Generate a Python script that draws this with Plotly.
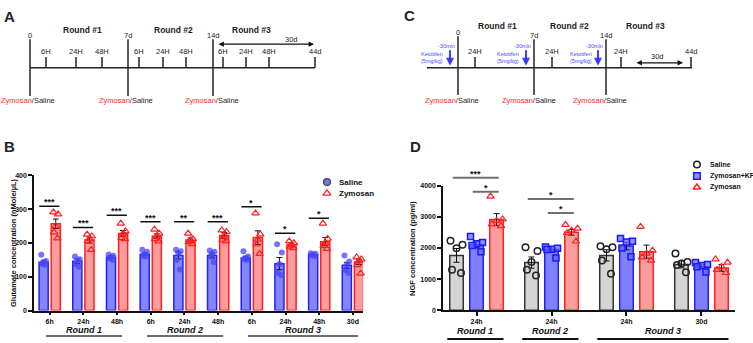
import plotly.graph_objects as go

W, H = 753, 343
FONT = "Liberation Sans"

# ---------------- Panel B data (glutamate) ----------------
b_times = ["6h", "24h", "48h", "6h", "24h", "48h", "6h", "24h", "48h", "30d"]
b_series = ["Saline", "Zymosan"]
b_rounds = ["Round 1", "Round 2", "Round 3"]
b_round_span = [(0, 2), (3, 5), (6, 9)]
b_sal_mean = [143, 146, 158, 167, 163, 163, 156, 139, 165, 134]
b_sal_sem = [6, 7, 5, 4, 10, 7, 5, 18, 3, 9]
b_zym_mean = [257, 209, 228, 220, 209, 222, 216, 195, 204, 144]
b_zym_sem = [14, 9, 9, 7, 6, 9, 20, 5, 12, 8]
b_sal_pts = [[165, 147, 143, 138, 136], [160, 152, 148, 138, 130], [166, 162, 158, 155, 150],
             [180, 174, 166, 162, 160], [180, 176, 170, 150, 122], [178, 174, 168, 160, 144],
             [176, 160, 155, 152, 150], [196, 172, 138, 112, 105], [170, 168, 166, 164, 161],
             [163, 145, 135, 120, 112]]
b_zym_pts = [[291, 285, 250, 232, 214], [225, 220, 212, 205, 180], [258, 235, 228, 215, 212],
             [240, 228, 220, 212, 205], [228, 212, 208, 203, 197], [238, 233, 222, 210, 205],
             [288, 226, 210, 196, 168], [205, 200, 195, 190, 185], [258, 213, 200, 192, 183],
             [158, 152, 147, 135, 110]]
b_sig_group = [0, 1, 2, 3, 4, 5, 6, 7, 8]
b_sig_y = [309, 246, 282, 263, 263, 263, 307, 229, 273]
b_sig_txt = ["***", "***", "***", "***", "**", "***", "*", "*", "*"]

# ---------------- Panel D data (NGF) ----------------
d_times = ["24h", "24h", "24h", "30d"]
d_series = ["Saline", "Zymosan+KF", "Zymosan"]
d_rounds = ["Round 1", "Round 2", "Round 3"]
d_round_span = [(0, 0), (1, 1), (2, 3)]
d_sal_mean = [1760, 1530, 1760, 1470]
d_sal_sem = [220, 180, 180, 110]
d_kf_mean = [2100, 1950, 2060, 1400]
d_kf_sem = [100, 90, 120, 60]
d_zym_mean = [2910, 2500, 1880, 1360]
d_zym_sem = [190, 90, 210, 110]
d_sal_pts = [[2230, 2100, 1990, 1300, 1200], [2020, 1900, 1550, 1300, 1120],
             [2050, 2020, 1960, 1600, 1170], [1820, 1550, 1500, 1450, 1220]]
d_kf_pts = [[2370, 2170, 2130, 2080, 1880], [2030, 1990, 1960, 1950, 1680],
            [2300, 2210, 2190, 2000, 1720], [1530, 1470, 1440, 1400, 1230]]
d_zym_pts = [[3650, 2920, 2870, 2760, 2700], [2740, 2620, 2560, 2480, 2210],
             [2680, 1920, 1820, 1700, 1600], [1640, 1530, 1400, 1300, 1200]]
# (group, left series, right series, y, stars)
d_sig = [(0, 0, 2, 4250, "***"), (0, 1, 2, 3800, "*"), (1, 0, 2, 3570, "*"), (1, 1, 2, 3120, "*")]

# ---------------- Styles ----------------
B_OFF = [-0.18, 0.18]
B_W = 0.27
D_OFF = [-0.267, 0.0, 0.267]
D_W = 0.18
JIT_B = [-0.07, 0.07, 0.0, -0.05, 0.05]
JIT_D = [-0.08, 0.08, 0.0, -0.06, 0.06]

bar_sal_b = dict(color="#8585ff", line=dict(color="#1f1fff", width=1.5))
bar_zym = dict(color="#ff9c9c", line=dict(color="#ff2020", width=1.5))
bar_sal_d = dict(color="#d4d4d4", line=dict(color="#333333", width=1.5))
bar_kf = dict(color="#8080ff", line=dict(color="#2020ff", width=1.5))

mk_sal_b = dict(symbol="circle", size=6, color="rgba(70,70,255,0.75)", line=dict(width=0))
mk_zym = dict(symbol="triangle-up-open", size=6.5, color="#ff2020", line=dict(width=1.2))
mk_sal_d = dict(symbol="circle-open", size=6.5, color="#222222", line=dict(width=1.5))
mk_kf = dict(symbol="square", size=6, color="rgba(100,100,255,0.7)", line=dict(color="#1a1aff", width=1.5))
ERR = dict(type="data", color="#111111", thickness=1, width=3)

# axis geometry
B_XDOM = [34 / W, 363 / W]
B_XR = [-0.466, 9.3]
B_YDOM = [1 - 313 / H, 1 - 175 / H]
B_YR = [0, 400]
D_XDOM = [443 / W, 735 / W]
D_XR = [-0.447, 3.447]
D_YDOM = [1 - 312.7 / H, 1 - 185.3 / H]
D_YR = [0, 4000]


def to_paper(v, dom, rng):
    return dom[0] + (v - rng[0]) / (rng[1] - rng[0]) * (dom[1] - dom[0])


fig = go.Figure()

# ---- Panel B traces ----
for s, (means, sems, pts, barst, mk) in enumerate([
        (b_sal_mean, b_sal_sem, b_sal_pts, bar_sal_b, mk_sal_b),
        (b_zym_mean, b_zym_sem, b_zym_pts, bar_zym, mk_zym)]):
    xs = [i + B_OFF[s] for i in range(len(b_times))]
    fig.add_trace(go.Bar(x=xs, y=means, width=B_W, marker=barst,
                         error_y=dict(array=sems, **ERR), xaxis="x", yaxis="y",
                         showlegend=False, hoverinfo="skip"))
    px_, py_ = [], []
    for i, grp in enumerate(pts):
        for j, v in enumerate(grp):
            px_.append(i + B_OFF[s] + JIT_B[j])
            py_.append(v)
    fig.add_trace(go.Scatter(x=px_, y=py_, mode="markers", marker=mk, xaxis="x", yaxis="y",
                             showlegend=False, cliponaxis=False, hoverinfo="skip"))

# ---- Panel D traces ----
for s, (means, sems, pts, barst, mk) in enumerate([
        (d_sal_mean, d_sal_sem, d_sal_pts, bar_sal_d, mk_sal_d),
        (d_kf_mean, d_kf_sem, d_kf_pts, bar_kf, mk_kf),
        (d_zym_mean, d_zym_sem, d_zym_pts, bar_zym, mk_zym)]):
    xs = [i + D_OFF[s] for i in range(len(d_times))]
    fig.add_trace(go.Bar(x=xs, y=means, width=D_W, marker=barst,
                         error_y=dict(array=sems, **ERR), xaxis="x2", yaxis="y2",
                         showlegend=False, hoverinfo="skip"))
    px_, py_ = [], []
    for i, grp in enumerate(pts):
        for j, v in enumerate(grp):
            px_.append(i + D_OFF[s] + JIT_D[j])
            py_.append(v)
    fig.add_trace(go.Scatter(x=px_, y=py_, mode="markers", marker=mk, xaxis="x2", yaxis="y2",
                             showlegend=False, cliponaxis=False, hoverinfo="skip"))

# ---- custom compact legends (hidden axes) ----
fig.add_trace(go.Scatter(x=[0.1, 0.1], y=[1, 0], mode="markers", xaxis="x3", yaxis="y3",
                         marker=dict(symbol=[mk_sal_b["symbol"], mk_zym["symbol"]], size=7,
                                     color=[mk_sal_b["color"], mk_zym["color"]], line=dict(width=1.2)),
                         showlegend=False, cliponaxis=False, hoverinfo="skip"))
fig.add_trace(go.Scatter(x=[0.11, 0.11, 0.11], y=[2, 1, 0], mode="markers", xaxis="x4", yaxis="y4",
                         marker=dict(symbol=[mk_sal_d["symbol"], mk_kf["symbol"], mk_zym["symbol"]], size=6.5,
                                     color=[mk_sal_d["color"], mk_kf["color"], mk_zym["color"]],
                                     line=dict(width=1.5, color=["#222222", "#1a1aff", "#ff2020"])),
                         showlegend=False, cliponaxis=False, hoverinfo="skip"))

shapes, annots = [], []


def PX(x):
    return x / W


def PY(y):
    return 1 - y / H


def line(x0, y0, x1, y1, color="#222222", width=1.5):
    shapes.append(dict(type="line", xref="paper", yref="paper", x0=PX(x0), y0=PY(y0),
                       x1=PX(x1), y1=PY(y1), line=dict(color=color, width=width)))


def text(x, y, s, size=7.5, color="#222222", bold=False, italic=False, xanchor="center", yanchor="middle"):
    annots.append(dict(xref="paper", yref="paper", x=PX(x), y=PY(y), text=s, showarrow=False,
                       font=dict(family=FONT, size=size, color=color, weight="bold" if bold else "normal",
                                 style="italic" if italic else "normal"),
                       xanchor=xanchor, yanchor=yanchor))


def harrow(x0, x1, y):
    annots.append(dict(xref="paper", yref="paper", x=PX(x1), y=PY(y), ax=-(x1 - x0), ay=0,
                       axref="pixel", ayref="pixel", text="", showarrow=True, arrowhead=2,
                       arrowside="end+start", arrowsize=0.9, arrowwidth=1.2, arrowcolor="#111111",
                       standoff=0, startstandoff=0))


def varrow(x, y0, y1, color):
    annots.append(dict(xref="paper", yref="paper", x=PX(x), y=PY(y1), ax=0, ay=-(y1 - y0),
                       axref="pixel", ayref="pixel", text="", showarrow=True, arrowhead=2,
                       arrowsize=0.8, arrowwidth=2, arrowcolor=color, standoff=0))


ZS = '<span style="color:#ff2a2a">Zymosan</span>/Saline'
BLUE = "#4a4aff"

# ---------------- Panel A schematic ----------------
text(9, 13, "A", size=15, bold=True)
line(30, 65, 315, 65)
for x, lab, ly in [(30, "0", 32), (128, "7d", 32), (213, "14d", 32)]:
    line(x, 36, x, 94)
    text(x, ly, lab)
for x, lab in [(46, "6H"), (76, "24H"), (102, "48H"), (139, "6H"), (163, "24H"), (186, "48H"),
               (223, "6H"), (246, "24H"), (269, "48H"), (315, "44d")]:
    line(x, 54, x, 65)
    text(x, 48, lab)
for x, lab in [(82, "Round #1"), (173, "Round #2"), (251, "Round #3")]:
    text(x, 27, lab, size=8.5, bold=True)
harrow(217, 314, 41)
text(291, 36, "30d")
for x in [28, 126, 212]:
    text(x, 99, ZS)

# ---------------- Panel C schematic ----------------
text(410, 12, "C", size=15, bold=True)
line(427, 65, 692, 65)
for x, lab, top in [(458, "0", 33), (534, "7d", 36), (606, "14d", 36)]:
    line(x, top, x, 93)
    text(x, top - 4, lab)
for x, lab in [(475, "24H"), (552, "24H"), (621, "24H"), (691, "44d")]:
    line(x, 54, x, 65)
    text(x, 48, lab)
for x, lab in [(497, "Round #1"), (569, "Round #2"), (645, "Round #3")]:
    text(x, 22, lab, size=8.5, bold=True)
harrow(635, 683, 60)
text(657, 54, "30d")
for xm, xk, xa in [(446, 432, 450), (522, 508, 526), (594, 581, 598)]:
    text(xm, 43, "-30min", size=5.5, color=BLUE)
    text(xk, 51, "Ketotifen", size=5.5, color=BLUE)
    text(xk, 58, "(5mg/kg)", size=5.5, color=BLUE)
    varrow(xa, 46, 63, "#3b3bff")
for x in [452, 529, 600]:
    text(x, 99, ZS)

# ---------------- Panel B decorations ----------------
text(9, 145, "B", size=15, bold=True)
annots.append(dict(xref="paper", yref="paper", x=PX(13), y=PY(244), text="Glutamate concentration (nMole/µL)",
                   textangle=-90, showarrow=False, font=dict(family=FONT, size=7.5, weight="bold", color="#111"),
                   xanchor="center", yanchor="middle"))
for g, yv, st in zip(b_sig_group, b_sig_y, b_sig_txt):
    shapes.append(dict(type="line", xref="x", yref="y", x0=g - 0.31, x1=g + 0.29, y0=yv, y1=yv,
                       line=dict(color="#111111", width=1.5)))
    annots.append(dict(xref="x", yref="y", x=g - 0.01, y=yv, text=st, showarrow=False, yanchor="bottom",
                       xanchor="center", yshift=-3, font=dict(family=FONT, size=9, weight="bold", color="#111")))
for name, (a, b) in zip(b_rounds, b_round_span):
    xa = to_paper(a - 0.11, B_XDOM, B_XR)
    xb = to_paper(b + 0.15, B_XDOM, B_XR)
    shapes.append(dict(type="line", xref="paper", yref="paper", x0=xa, x1=xb, y0=PY(339), y1=PY(339),
                       line=dict(color="#6e6e6e", width=2)))
    annots.append(dict(xref="paper", yref="paper", x=(xa + xb) / 2, y=PY(333), text=name, showarrow=False,
                       xanchor="center", yanchor="middle",
                       font=dict(family=FONT, size=9, weight="bold", style="italic", color="#111")))
for k, name in enumerate(b_series):
    annots.append(dict(xref="x3", yref="y3", x=0.3, y=1 - k, text=name, showarrow=False, xanchor="left",
                       yanchor="middle", font=dict(family=FONT, size=8, weight="bold", color="#111")))

# ---------------- Panel D decorations ----------------
text(416, 145, "D", size=15, bold=True)
annots.append(dict(xref="paper", yref="paper", x=PX(413), y=PY(249), text="NGF concentration (pg/ml)",
                   textangle=-90, showarrow=False, font=dict(family=FONT, size=7.5, weight="bold", color="#111"),
                   xanchor="center", yanchor="middle"))
for g, l, r, yv, st in d_sig:
    x0 = to_paper(g + D_OFF[l] - 0.05, D_XDOM, D_XR)
    x1 = to_paper(g + D_OFF[r] + 0.03, D_XDOM, D_XR)
    yp = to_paper(yv, D_YDOM, D_YR)
    shapes.append(dict(type="line", xref="paper", yref="paper", x0=x0, x1=x1, y0=yp, y1=yp,
                       line=dict(color="#707070", width=2)))
    annots.append(dict(xref="paper", yref="paper", x=(x0 + x1) / 2, y=yp, text=st, showarrow=False,
                       xanchor="center", yanchor="bottom", yshift=-3,
                       font=dict(family=FONT, size=9, weight="bold", color="#111")))
for name, (a, b) in zip(d_rounds, d_round_span):
    xa = to_paper(a - 0.39, D_XDOM, D_XR)
    xb = to_paper(b + 0.36, D_XDOM, D_XR)
    shapes.append(dict(type="line", xref="paper", yref="paper", x0=xa, x1=xb, y0=PY(342), y1=PY(342),
                       line=dict(color="#111111", width=2)))
    annots.append(dict(xref="paper", yref="paper", x=(xa + xb) / 2, y=PY(334), text=name, showarrow=False,
                       xanchor="center", yanchor="middle",
                       font=dict(family=FONT, size=9, weight="bold", style="italic", color="#111")))
for k, name in enumerate(d_series):
    annots.append(dict(xref="x4", yref="y4", x=0.29, y=2 - k, text=name, showarrow=False, xanchor="left",
                       yanchor="middle", font=dict(family=FONT, size=7, weight="bold", color="#111")))

axis_common = dict(showgrid=False, zeroline=False, showline=True, linecolor="#111111", linewidth=1.5,
                   ticks="outside", tickcolor="#111111", tickwidth=1.5,
                   tickfont=dict(family=FONT, size=7, weight="bold", color="#111"))

fig.update_layout(
    width=W, height=H, margin=dict(l=0, r=0, t=0, b=0),
    paper_bgcolor="white", plot_bgcolor="rgba(0,0,0,0)", barmode="overlay", showlegend=False,
    font=dict(family=FONT),
    xaxis=dict(domain=B_XDOM, range=B_XR, tickmode="array",
               tickvals=list(range(len(b_times))), ticktext=b_times, ticklen=3, anchor="y", **axis_common),
    yaxis=dict(domain=B_YDOM, range=B_YR, tickvals=[0, 100, 200, 300, 400],
               ticklen=4, anchor="x", **axis_common),
    xaxis2=dict(domain=D_XDOM, range=D_XR, tickmode="array", tickvals=list(range(len(d_times))),
                ticktext=d_times, ticklen=4, anchor="y2", **axis_common),
    yaxis2=dict(domain=D_YDOM, range=D_YR, tickvals=[0, 1000, 2000, 3000, 4000], ticklen=4,
                anchor="x2", **axis_common),
    xaxis3=dict(domain=[322 / W, 372 / W], range=[0, 1], visible=False, anchor="y3"),
    yaxis3=dict(domain=[1 - 199 / H, 1 - 176 / H], range=[-0.5, 1.5], visible=False, anchor="x3"),
    xaxis4=dict(domain=[690 / W, 753 / W], range=[0, 1], visible=False, anchor="y4"),
    yaxis4=dict(domain=[1 - 193 / H, 1 - 158 / H], range=[-0.5, 2.5], visible=False, anchor="x4"),
    shapes=shapes, annotations=annots,
)

fig.write_html("out.html", config={"displayModeBar": False},
               post_script="document.body.style.margin='0';document.body.style.overflow='hidden';")
